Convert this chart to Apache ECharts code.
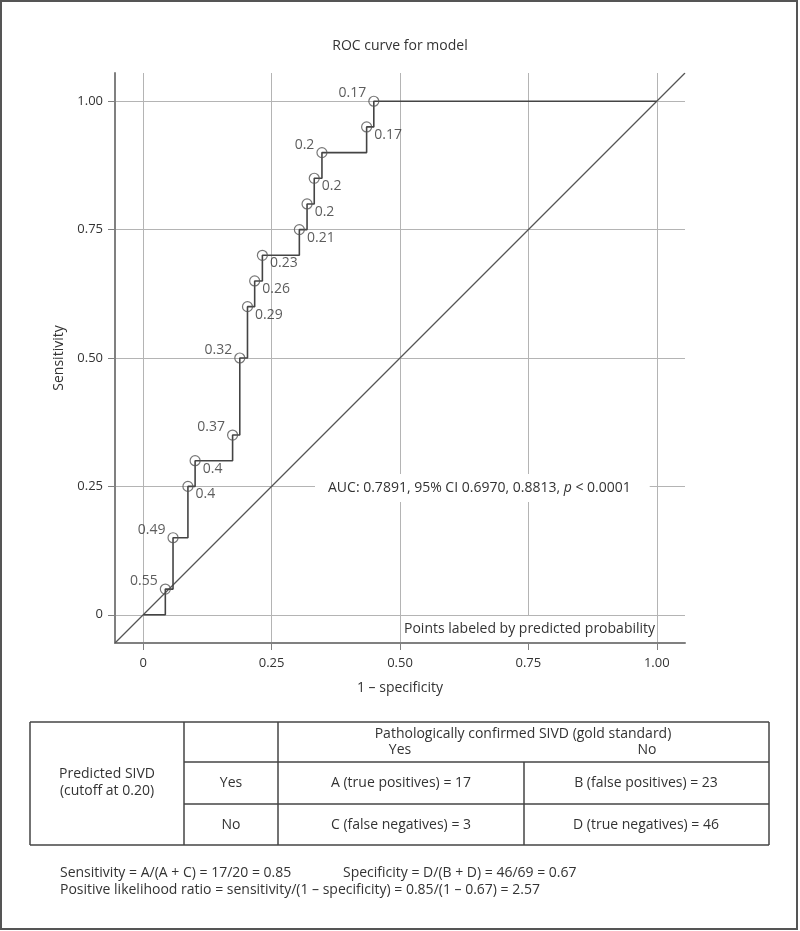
<!DOCTYPE html>
<html>
<head>
<meta charset="utf-8">
<script src="https://cdn.jsdelivr.net/npm/echarts@6/dist/echarts.min.js"></script>
<style>
html, body { margin: 0; padding: 0; background: #fff; }
#main { width: 800px; height: 931px; }
</style>
</head>
<body>
<div id="main"></div>
<script>
// ROC points (1 - specificity, sensitivity)
var fpr = [0, 0.043, 0.058, 0.087, 0.101, 0.174, 0.188, 0.203, 0.217, 0.232, 0.304, 0.319, 0.333, 0.348, 0.435, 0.449, 1];
var tpr = [0, 0.05, 0.15, 0.25, 0.30, 0.35, 0.50, 0.60, 0.65, 0.70, 0.75, 0.80, 0.85, 0.90, 0.95, 1, 1];
var cutLabels = ['', '0.55', '0.49', '0.4', '0.4', '0.37', '0.32', '0.29', '0.26', '0.23', '0.21', '0.2', '0.2', '0.2', '0.17', '0.17', ''];
var tickValues = [0, 0.25, 0.5, 0.75, 1];
var refLine = [-0.055, 1.055];

var aucText = 'AUC: 0.7891, 95% CI 0.6970, 0.8813, {i|p} < 0.0001';
var noteText = 'Points labeled by predicted probability';

// 2x2 table
var headTitle = 'Pathologically confirmed SIVD (gold standard)';
var headCols = ['Yes', 'No'];
var rowHead = 'Predicted SIVD\n(cutoff at 0.20)';
var rowNames = ['Yes', 'No'];
var cells = [
    ['A (true positives) = 17', 'B (false positives) = 23'],
    ['C (false negatives) = 3', 'D (true negatives) = 46']
];
var footLines = [
    'Sensitivity = A/(A + C) = 17/20 = 0.85',
    'Specificity = D/(B + D) = 46/69 = 0.67',
    'Positive likelihood ratio = sensitivity/(1 \u2013 specificity) = 0.85/(1 \u2013 0.67) = 2.57'
];

var FONT = '"Open Sans", "Noto Sans", sans-serif';
var TXT = '#333';
var FS = 14;

// labels drawn up-left of the marker, the rest go down-right
var leftUp = [1, 2, 5, 6, 13, 15];

var pts = [];
for (var i = 0; i < fpr.length; i++) {
    if (!cutLabels[i]) continue;
    var up = leftUp.indexOf(i) >= 0;
    pts.push({
        name: cutLabels[i],
        value: [fpr[i], tpr[i]],
        label: up ? { position: 'left', distance: 2, offset: [0, -8] }
                  : { position: 'right', distance: 2, offset: [0, 8] }
    });
}

function tickFmt(v) {
    return v === 0 ? '0' : v.toFixed(2);
}

function axisCommon(name, gap, margin) {
    return {
        type: 'value',
        min: refLine[0],
        max: refLine[1],
        name: name,
        nameLocation: 'middle',
        nameGap: gap,
        nameTextStyle: { fontSize: FS, color: TXT, fontFamily: FONT },
        axisLine: { show: true, onZero: false, lineStyle: { color: '#808080', width: 2 } },
        axisTick: { show: true, length: 7, customValues: tickValues, lineStyle: { color: '#808080', width: 1 } },
        axisLabel: { customValues: tickValues, formatter: tickFmt, margin: margin, fontSize: 13, color: TXT, fontFamily: FONT },
        splitLine: { show: true, lineStyle: { color: '#b4b4b4', width: 1 } }
    };
}

function txt(x, y, s, align) {
    return {
        type: 'text', z: 50, x: x, y: y,
        style: { text: s, fontSize: FS, fontFamily: FONT, fill: TXT, align: align || 'center', verticalAlign: 'middle', lineHeight: 17 }
    };
}
function ln(x1, y1, x2, y2) {
    return { type: 'line', z: 50, shape: { x1: x1, y1: y1, x2: x2, y2: y2 }, style: { stroke: '#444', lineWidth: 1.5 } };
}

var graphics = [
    { type: 'rect', z: 60, shape: { x: 1, y: 1, width: 796, height: 928 }, style: { fill: 'none', stroke: '#555', lineWidth: 2 } },
    // AUC note with white backing over the grid
    {
        type: 'text', z: 50, x: 315, y: 488,
        style: {
            text: aucText, fontSize: FS, fontFamily: FONT, fill: TXT, verticalAlign: 'middle',
            backgroundColor: '#fff', padding: [7, 19, 7, 13],
            rich: { i: { fontStyle: 'italic', fontSize: FS, fontFamily: FONT, fill: TXT } }
        }
    },
    { type: 'rect', z: 50, shape: { x: 401, y: 616, width: 255, height: 26 }, style: { fill: '#fff' } },
    txt(404, 629, noteText, 'left'),
    // table frame
    ln(30, 722, 769, 722), ln(30, 845, 769, 845), ln(30, 722, 30, 845), ln(769, 722, 769, 845),
    ln(184, 722, 184, 845), ln(278, 722, 278, 845), ln(524, 762, 524, 845),
    ln(184, 762, 769, 762), ln(184, 804, 769, 804),
    txt(107, 783, rowHead),
    txt(523, 734, headTitle), txt(400, 750, headCols[0]), txt(647, 750, headCols[1]),
    txt(231, 783, rowNames[0]), txt(231, 825, rowNames[1]),
    txt(401, 783, cells[0][0]), txt(646, 783, cells[0][1]),
    txt(401, 825, cells[1][0]), txt(646, 825, cells[1][1]),
    txt(60, 873, footLines[0], 'left'), txt(343, 873, footLines[1], 'left'),
    txt(60, 890, footLines[2], 'left')
];

var myChart = echarts.init(document.getElementById('main'));
var option = {
    animation: false,
    backgroundColor: '#fff',
    title: {
        text: 'ROC curve for model',
        left: 'center',
        top: 34,
        textStyle: { fontSize: FS, fontWeight: 'normal', color: TXT, fontFamily: FONT }
    },
    grid: { left: 115, right: 115, top: 73, bottom: 288, containLabel: false },
    xAxis: axisCommon('1 \u2013 specificity', 38, 14),
    yAxis: axisCommon('Sensitivity', 46, 12),
    series: [
        {
            type: 'line',
            data: refLine.map(function (v) { return [v, v]; }),
            symbol: 'none',
            silent: true,
            lineStyle: { color: '#555', width: 1.2 },
            z: 2
        },
        {
            type: 'line',
            step: 'end',
            data: fpr.map(function (x, k) { return [x, tpr[k]]; }),
            symbol: 'none',
            lineStyle: { color: '#444', width: 1.6 },
            z: 3
        },
        {
            type: 'scatter',
            data: pts,
            symbol: 'circle',
            symbolSize: 10,
            itemStyle: { color: 'rgba(255,255,255,0)', borderColor: '#555', borderWidth: 1.2 },
            label: { show: true, formatter: '{b}', fontSize: FS, color: TXT, fontFamily: FONT },
            z: 4
        }
    ],
    graphic: graphics
};
myChart.setOption(option);
</script>
</body>
</html>
